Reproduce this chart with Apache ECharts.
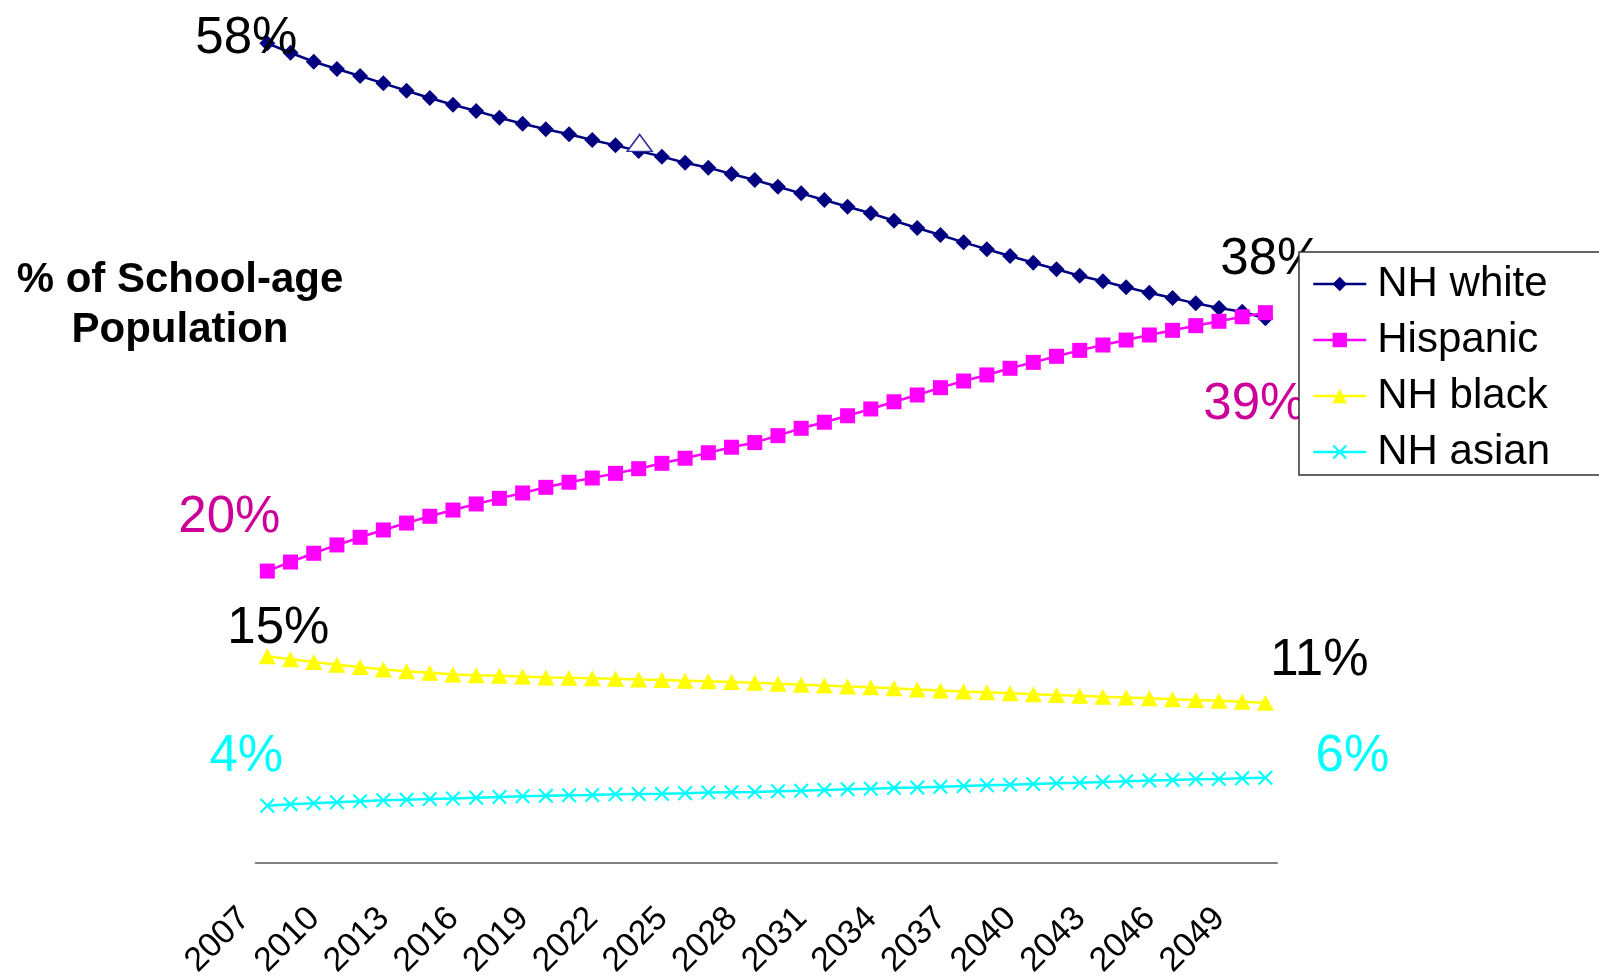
<!DOCTYPE html>
<html>
<head>
<meta charset="utf-8">
<title>School-age population by group</title>
<script src="https://cdn.jsdelivr.net/npm/echarts@6/dist/echarts.min.js"></script>
<style>
  html, body { margin: 0; padding: 0; background: #fff; }
  #chart { width: 1599px; height: 976px; }
</style>
</head>
<body>
<div id="chart"></div>
<script>
// years 2007..2050, shares of school-age population (%)
const years = ['2007','2008','2009','2010','2011','2012','2013','2014','2015','2016','2017',
  '2018','2019','2020','2021','2022','2023','2024','2025','2026','2027','2028','2029','2030',
  '2031','2032','2033','2034','2035','2036','2037','2038','2039','2040','2041','2042','2043',
  '2044','2045','2046','2047','2048','2049','2050']

const nhWhite = [58.02, 57.35, 56.71, 56.20, 55.70, 55.18, 54.66, 54.14, 53.67, 53.22, 52.75,
  52.32, 51.93, 51.57, 51.17, 50.79, 50.39, 49.99, 49.56, 49.21, 48.76, 48.34, 47.86, 47.39,
  46.92, 46.44, 45.98, 45.45, 44.94, 44.44, 43.92, 43.43, 42.95, 42.48, 42.01, 41.56, 41.16,
  40.74, 40.35, 39.98, 39.60, 39.27, 39.01, 38.54]

const hispanic = [20.64, 21.28, 21.90, 22.49, 23.03, 23.55, 24.04, 24.52, 24.96, 25.39, 25.79,
  26.17, 26.57, 26.93, 27.23, 27.56, 27.89, 28.27, 28.63, 29.02, 29.41, 29.74, 30.23, 30.75,
  31.18, 31.64, 32.12, 32.63, 33.11, 33.63, 34.10, 34.53, 35.00, 35.42, 35.85, 36.27, 36.65,
  37.00, 37.36, 37.69, 38.02, 38.33, 38.65, 38.94]

const nhBlack = [14.61, 14.40, 14.20, 14.01, 13.85, 13.67, 13.54, 13.43, 13.31, 13.26, 13.22,
  13.17, 13.10, 13.08, 13.05, 13.02, 12.96, 12.92, 12.88, 12.83, 12.78, 12.73, 12.66, 12.59,
  12.54, 12.46, 12.41, 12.34, 12.25, 12.18, 12.11, 12.05, 11.98, 11.92, 11.86, 11.81, 11.74,
  11.69, 11.64, 11.57, 11.51, 11.45, 11.39, 11.31]

const nhAsian = [4.02, 4.12, 4.19, 4.26, 4.33, 4.40, 4.45, 4.50, 4.54, 4.59, 4.64,
  4.69, 4.73, 4.76, 4.78, 4.83, 4.85, 4.87, 4.90, 4.95, 4.97, 4.99, 5.04, 5.09,
  5.13, 5.18, 5.23, 5.28, 5.32, 5.37, 5.42, 5.47, 5.51, 5.56, 5.61, 5.65, 5.70,
  5.75, 5.80, 5.84, 5.89, 5.91, 5.96, 6.01]

// callout texts at the first / last year
const startLabels = ['58%', '20%', '15%', '4%']
const endLabels = ['38%', '39%', '11%', '6%']

const FONT = '"Liberation Sans", Arial, sans-serif'
const xMark = 'path://M0,1 L1,0 L5,4 L9,0 L10,1 L6,5 L10,9 L9,10 L5,6 L1,10 L0,9 L4,5 Z'

// put big % callouts on first and last point
function withEnds(values, startText, endText, startOff, endOff, color) {
  const lbl = (text, off) => ({
    show: true, position: 'inside', formatter: text, offset: off,
    fontSize: 51, fontFamily: FONT, color: color, align: 'center', verticalAlign: 'middle'
  })
  return values.map((v, i) => {
    if (i === 0) return { value: v, label: lbl(startText, startOff) }
    if (i === values.length - 1) return { value: v, label: lbl(endText, endOff) }
    return v
  })
}

const chart = echarts.init(document.getElementById('chart'))

chart.setOption({
  animation: false,
  backgroundColor: '#fff',
  title: {
    text: '% of School-age\nPopulation',
    left: 180, top: 255, padding: 0,
    textAlign: 'center',
    textStyle: { fontFamily: FONT, fontWeight: 'bold', fontSize: 42, lineHeight: 50, color: '#000' }
  },
  legend: {
    orient: 'vertical',
    left: 1299, top: 252,
    z: 10,
    backgroundColor: '#fff',
    borderColor: '#333', borderWidth: 1.5,
    padding: [10, 50, 1, 13],
    itemWidth: 53, itemHeight: 18, itemGap: 12,
    lineStyle: { width: 2.5 },
    textStyle: { fontFamily: FONT, fontSize: 42, lineHeight: 44, color: '#000', padding: [0, 0, 0, 6] }
  },
  grid: {
    left: 255.7, right: 322, top: 15.3, bottom: 113.5,
    containLabel: false, outerBoundsMode: 'none'
  },
  xAxis: {
    type: 'category',
    data: years,
    boundaryGap: true,
    axisLine: { lineStyle: { color: '#808080', width: 2 } },
    axisTick: { show: false },
    axisLabel: {
      interval: 2, rotate: 45, margin: 28, padding: [0, 32, 0, 0],
      fontFamily: FONT, fontSize: 34, color: '#000'
    }
  },
  yAxis: {
    type: 'value', min: 0, max: 60,
    show: false
  },
  series: [
    {
      name: 'NH white', type: 'line',
      data: withEnds(nhWhite, startLabels[0], endLabels[0], [-21, -4], [6, -58], '#000'),
      symbol: 'diamond', symbolSize: 16, showAllSymbol: true,
      itemStyle: { color: '#000080' },
      lineStyle: { color: '#000080', width: 2.5 },
      markPoint: {
        symbol: 'triangle', symbolSize: [25, 17], symbolOffset: [1, -8],
        itemStyle: { color: '#fff', borderColor: '#333399', borderWidth: 1.5 },
        label: { show: false },
        data: [{ coord: [years[16], nhWhite[16]] }]
      }
    },
    {
      name: 'Hispanic', type: 'line',
      data: withEnds(hispanic, startLabels[1], endLabels[1], [-38, -53], [-11, 92], '#CC0099'),
      symbol: 'rect', symbolSize: 15, showAllSymbol: true,
      itemStyle: { color: '#FF00FF' },
      lineStyle: { color: '#FF00FF', width: 2.5 }
    },
    {
      name: 'NH black', type: 'line',
      data: withEnds(nhBlack, startLabels[2], endLabels[2], [11, -27], [54, -42], '#000'),
      symbol: 'triangle', symbolSize: [17, 16], showAllSymbol: true,
      itemStyle: { color: '#FFFF00' },
      lineStyle: { color: '#FFFF00', width: 2.5 }
    },
    {
      name: 'NH asian', type: 'line',
      data: withEnds(nhAsian, startLabels[3], endLabels[3], [-21, -49], [87, -21], '#00FFFF'),
      symbol: xMark, symbolSize: 15, showAllSymbol: true,
      itemStyle: { color: '#00FFFF' },
      lineStyle: { color: '#00FFFF', width: 2.5 }
    }
  ]
})
</script>
</body>
</html>
